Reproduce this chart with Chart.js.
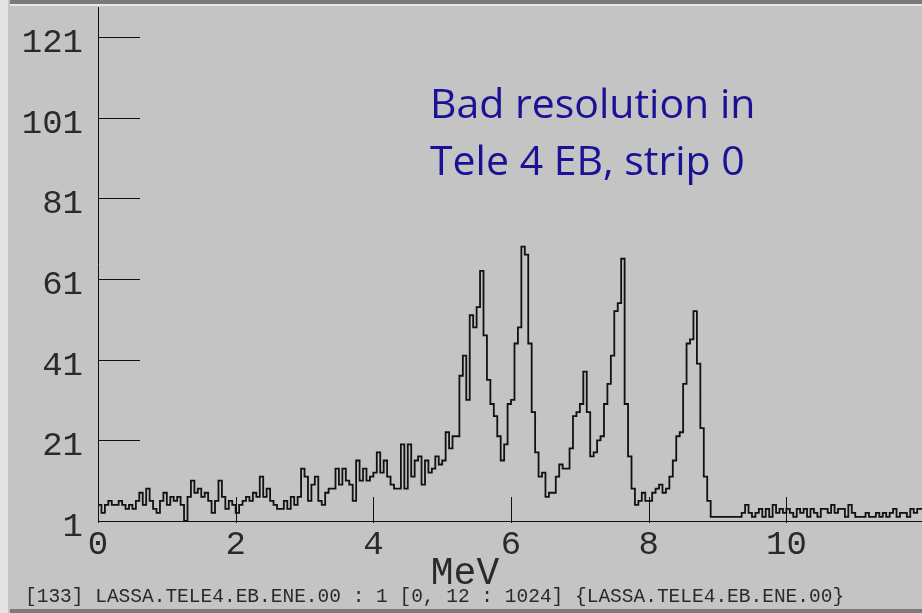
<!DOCTYPE html>
<html>
<head>
<meta charset="utf-8">
<title>LASSA TELE4 EB strip 0</title>
<script src="https://cdn.jsdelivr.net/npm/chart.js@4/dist/chart.umd.min.js"></script>
<style>
  html, body { margin: 0; padding: 0; background: #c4c4c4; }
  #chart { display: block; }
</style>
</head>
<body>
<canvas id="chart" width="922" height="613"></canvas>
<script>
// spectrum: counts per 0.05 MeV bin
var binWidth = 0.05;
var counts = [
    4, 5, 3, 5, 6, 5, 5, 6, 5, 4,
    5, 4, 6, 8, 5, 9, 6, 4, 3, 6,
    8, 5, 7, 6, 7, 5, 1, 7, 11, 8,
    9, 7, 8, 6, 3, 6, 11, 7, 4, 6,
    5, 3, 5, 6, 7, 6, 8, 7, 12, 7,
    9, 6, 5, 4, 4, 6, 4, 7, 5, 7,
    14, 12, 6, 10, 12, 6, 5, 8, 9, 9,
    14, 10, 14, 11, 10, 6, 16, 11, 14, 11,
    12, 13, 18, 13, 16, 12, 10, 9, 9, 20,
    9, 20, 12, 16, 17, 10, 16, 13, 14, 17,
    15, 16, 23, 19, 22, 22, 37, 42, 31, 52,
    49, 54, 63, 47, 36, 30, 27, 22, 16, 20,
    30, 31, 45, 49, 69, 67, 45, 28, 18, 12,
    13, 7, 8, 8, 12, 15, 14, 14, 19, 27,
    28, 30, 38, 28, 17, 18, 21, 22, 30, 35,
    42, 53, 55, 66, 30, 17, 9, 5, 6, 8,
    6, 6, 8, 9, 10, 8, 9, 12, 16, 22,
    23, 35, 45, 46, 53, 40, 24, 12, 6, 2,
    2, 2, 2, 2, 2, 2, 2, 2, 3, 5,
    3, 2, 3, 4, 2, 4, 2, 5, 3, 4,
    3, 4, 3, 2, 4, 3, 4, 2, 4, 3,
    2, 4, 4, 3, 5, 3, 4, 4, 2, 5,
    3, 2, 2, 2, 3, 2, 2, 3, 2, 3,
    2, 3, 4, 2, 3, 3, 2, 4, 3, 4
];
var xTicks = [0, 2, 4, 6, 8, 10];
var yTicks = [1, 21, 41, 61, 81, 101, 121];
var xTitle = "MeV";
var note = ["Bad resolution in", "Tele 4 EB, strip 0"];
var caption = "[133] LASSA.TELE4.EB.ENE.00 : 1 [0, 12 : 1024] {LASSA.TELE4.EB.ENE.00}";

var points = counts.map(function (c, i) {
    return { x: i * binWidth, y: c };
});
points.push({ x: counts.length * binWidth, y: counts[counts.length - 1] });

var mono = "'Liberation Mono', 'DejaVu Sans Mono', monospace";
var ink = "#2a2a2a";

var decor = {
    id: "decor",
    beforeDraw: function (chart) {
        var ctx = chart.ctx;
        ctx.save();
        ctx.fillStyle = "#c4c4c4";
        ctx.fillRect(0, 0, 922, 613);
        ctx.fillStyle = "#e4e4e4";
        ctx.fillRect(0, 0, 8, 613);
        ctx.fillStyle = "#7a7a7a";
        ctx.fillRect(10, 0, 912, 4);
        ctx.fillRect(10, 609, 912, 4);
        ctx.fillStyle = "#e8e8e8";
        ctx.fillRect(10, 4, 912, 2);
        ctx.restore();
    },
    afterDraw: function (chart) {
        var ctx = chart.ctx;
        var area = chart.chartArea;
        var xs = chart.scales.x;
        var ys = chart.scales.y;
        ctx.save();
        ctx.strokeStyle = "#111111";
        ctx.lineWidth = 1;
        ctx.beginPath();
        yTicks.forEach(function (v) {
            var py = Math.round(ys.getPixelForValue(v)) + 0.5;
            ctx.moveTo(area.left, py);
            ctx.lineTo(area.left + 42, py);
        });
        xTicks.forEach(function (v) {
            var px = Math.round(xs.getPixelForValue(v)) + 0.5;
            ctx.moveTo(px, area.bottom - 24);
            ctx.lineTo(px, area.bottom + 2);
        });
        ctx.stroke();

        ctx.fillStyle = ink;
        ctx.font = "38px " + mono;
        ctx.textAlign = "center";
        ctx.textBaseline = "alphabetic";
        ctx.fillText(xTitle, 465, 584);

        ctx.font = "19.5px " + mono;
        ctx.textAlign = "left";
        ctx.fillText(caption, 25, 602);

        ctx.fillStyle = "#1a1196";
        ctx.font = "41px 'Open Sans', Lato, sans-serif";
        ctx.fillText(note[0], 430, 118);
        ctx.fillText(note[1], 430, 175);
        ctx.restore();
    }
};

new Chart(document.getElementById("chart").getContext("2d"), {
    type: "line",
    data: {
        datasets: [
            {
                label: "LASSA.TELE4.EB.ENE.00",
                data: points,
                stepped: "after",
                borderColor: "#111111",
                borderWidth: 1.8,
                pointRadius: 0,
                fill: false,
            },
        ],
    },
    options: {
        responsive: false,
        animation: false,
        layout: { padding: { top: 7, right: 0, bottom: 0, left: 0 } },
        plugins: {
            legend: { display: false },
            tooltip: { enabled: false },
        },
        scales: {
            x: {
                type: "linear",
                min: 0,
                max: 11.97,
                afterBuildTicks: function (scale) {
                    scale.ticks = xTicks.map(function (v) { return { value: v }; });
                },
                afterFit: function (scale) {
                    scale.height = 92;
                    scale.paddingLeft = 0;
                    scale.paddingRight = 0;
                },
                grid: { display: false, drawTicks: false },
                border: { display: true, color: "#111111", width: 1 },
                ticks: {
                    color: ink,
                    font: { family: mono, size: 34 },
                    padding: 4,
                    maxRotation: 0,
                    autoSkip: false,
                },
            },
            y: {
                type: "linear",
                min: 1,
                max: 128.4,
                afterBuildTicks: function (scale) {
                    scale.ticks = yTicks.map(function (v) { return { value: v }; });
                },
                afterFit: function (scale) {
                    scale.width = 98;
                    scale.paddingTop = 0;
                    scale.paddingBottom = 0;
                },
                grid: { display: false, drawTicks: false },
                border: { display: true, color: "#111111", width: 1 },
                ticks: {
                    color: ink,
                    font: { family: mono, size: 34 },
                    padding: 15,
                    labelOffset: 6,
                    autoSkip: false,
                },
            },
        },
    },
    plugins: [decor],
});
</script>
</body>
</html>
